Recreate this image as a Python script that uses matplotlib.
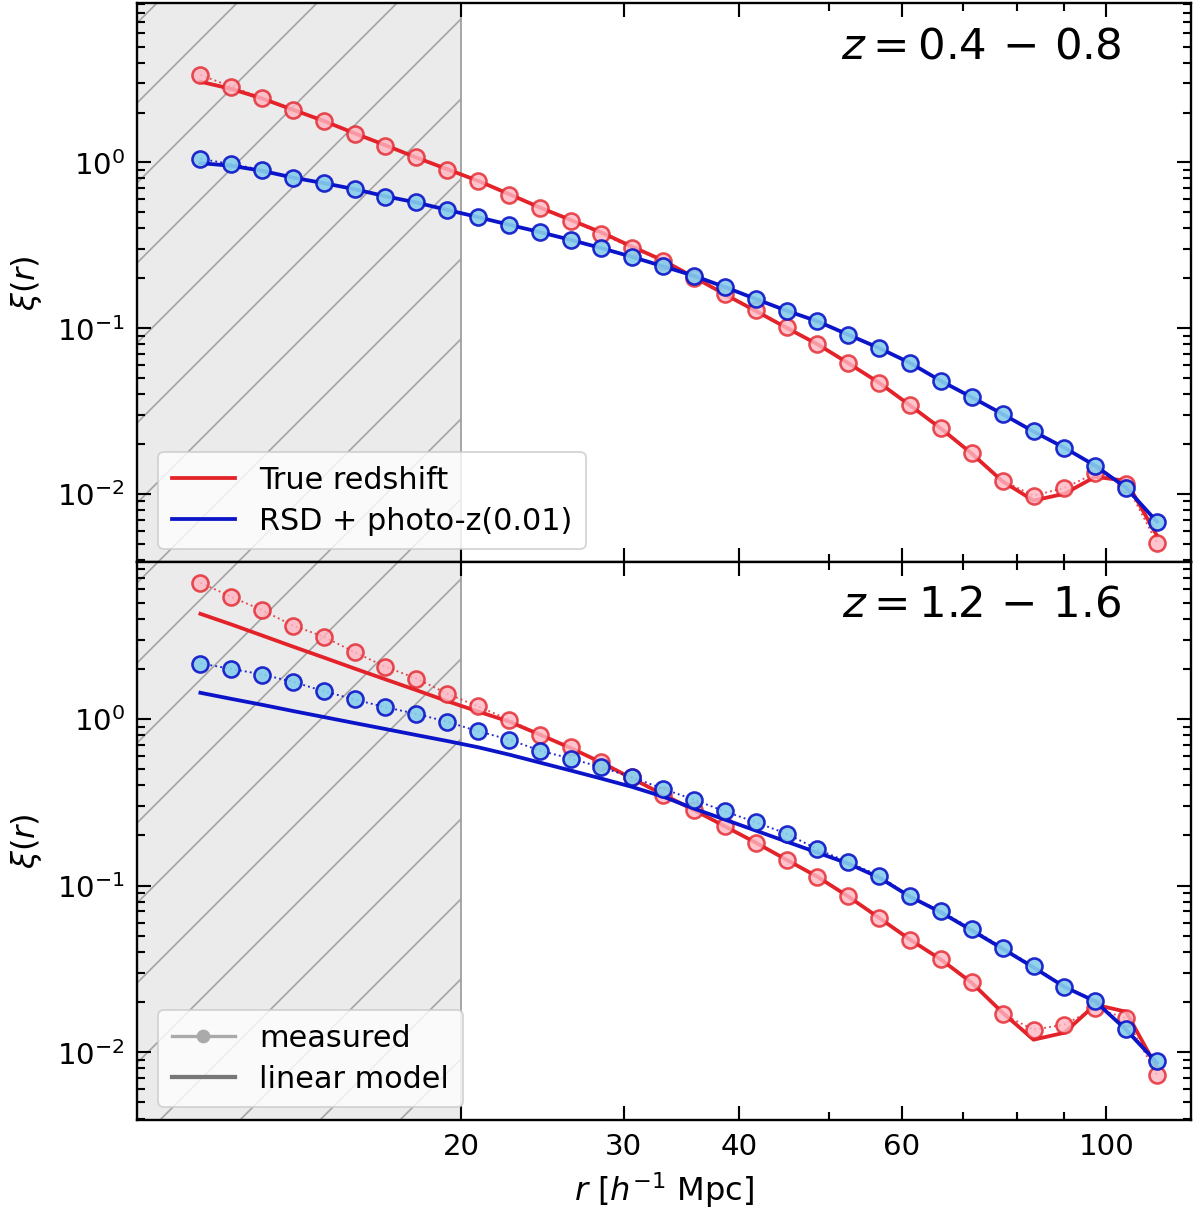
import matplotlib
matplotlib.use("Agg")
import matplotlib.pyplot as plt
from matplotlib.lines import Line2D
from matplotlib.ticker import FixedLocator, FixedFormatter, NullFormatter

# ====== Data ======
r = [10.43, 11.26, 12.17, 13.14, 14.19, 15.32, 16.55, 17.88, 19.31, 20.85,
     22.52, 24.32, 26.27, 28.37, 30.64, 33.10, 35.74, 38.61, 41.70, 45.03,
     48.64, 52.53, 56.74, 61.28, 66.19, 71.49, 77.20, 83.39, 90.06, 97.27,
     105.05, 113.45]

# z = 0.4 - 0.8
top_true_meas = [3.37, 2.87, 2.45, 2.07, 1.79, 1.49, 1.26, 1.075, 0.904, 0.777,
                 0.639, 0.529, 0.446, 0.371, 0.304, 0.254, 0.201, 0.161, 0.128, 0.1014,
                 0.0804, 0.0618, 0.0470, 0.0344, 0.0249, 0.0176, 0.0120, 0.00978, 0.01084, 0.01334,
                 0.01151, 0.00507]
top_true_model = [3.07, 2.78, 2.43, 2.08, 1.78, 1.50, 1.27, 1.07, 0.91, 0.775,
                  0.645, 0.535, 0.450, 0.378, 0.310, 0.256, 0.203, 0.160, 0.127, 0.1005,
                  0.0800, 0.0615, 0.0468, 0.0342, 0.0248, 0.0175, 0.0119, 0.00912, 0.01002, 0.01268,
                  0.0120, 0.00561]
top_rsd_meas = [1.05, 0.979, 0.901, 0.806, 0.752, 0.692, 0.622, 0.575, 0.517, 0.467,
                0.420, 0.379, 0.342, 0.305, 0.270, 0.2366, 0.2076, 0.1768, 0.1502, 0.1277,
                0.1102, 0.0915, 0.0760, 0.0618, 0.0480, 0.0384, 0.0304, 0.0239, 0.01897, 0.01483,
                0.01084, 0.00676]
top_rsd_model = [0.99, 0.955, 0.89, 0.81, 0.75, 0.69, 0.625, 0.573, 0.517, 0.468,
                 0.421, 0.380, 0.341, 0.304, 0.269, 0.236, 0.207, 0.177, 0.150, 0.1275,
                 0.1100, 0.0913, 0.0758, 0.0617, 0.0480, 0.0383, 0.0303, 0.0238, 0.0190, 0.0148,
                 0.0109, 0.00680]

# z = 1.2 - 1.6
bot_true_meas = [6.58, 5.42, 4.50, 3.64, 3.12, 2.52, 2.06, 1.75, 1.42, 1.19,
                 0.993, 0.807, 0.677, 0.550, 0.447, 0.352, 0.286, 0.227, 0.1805, 0.1432,
                 0.1133, 0.0862, 0.0640, 0.0474, 0.0363, 0.0265, 0.01695, 0.01365, 0.01463, 0.0184,
                 0.0160, 0.00733]
bot_true_model = [4.28, 3.70, 3.17, 2.72, 2.34, 2.01, 1.73, 1.49, 1.28, 1.11,
                  0.966, 0.807, 0.670, 0.548, 0.439, 0.352, 0.284, 0.227, 0.181, 0.143,
                  0.113, 0.086, 0.064, 0.0474, 0.0360, 0.0261, 0.01727, 0.01189, 0.01309, 0.01929,
                  0.0175, 0.00807]
bot_rsd_meas = [2.154, 2.003, 1.85, 1.673, 1.469, 1.31, 1.177, 1.074, 0.963, 0.845,
                0.753, 0.647, 0.579, 0.513, 0.447, 0.381, 0.328, 0.279, 0.240, 0.205,
                0.1655, 0.138, 0.1148, 0.0862, 0.0701, 0.0550, 0.0424, 0.0328, 0.0248, 0.0204,
                0.01384, 0.00889]
bot_rsd_model = [1.437, 1.322, 1.217, 1.117, 1.028, 0.946, 0.871, 0.801, 0.738, 0.677,
                 0.612, 0.548, 0.491, 0.439, 0.391, 0.342, 0.290, 0.249, 0.214, 0.1837,
                 0.1578, 0.1356, 0.1117, 0.0859, 0.0691, 0.0539, 0.0418, 0.0323, 0.0247, 0.0202,
                 0.01365, 0.00865]

panels = [
    ("$z = 0.4\\,-\\,0.8$", top_true_meas, top_true_model, top_rsd_meas, top_rsd_model, (0.0039, 9.1)),
    ("$z = 1.2\\,-\\,1.6$", bot_true_meas, bot_true_model, bot_rsd_meas, bot_rsd_model, (0.0039, 8.8)),
]

red = "#e3222a"
blue = "#0b14c8"
xticks = [20, 30, 40, 60, 100]

# dpi picked so the hatch spacing matches the original; S rescales point sizes
DPI = 240
S = 340 / DPI
plt.rcParams["hatch.linewidth"] = 0.35 * S
plt.rcParams["font.size"] = 6 * S

fig = plt.figure(figsize=(1200.5 / DPI, 1209.5 / DPI), dpi=DPI)
ax_top = fig.add_axes([0.114, 0.5352, 0.878, 0.4615])
ax_bot = fig.add_axes([0.114, 0.0733, 0.878, 0.4619], sharex=ax_top)
axs = [ax_top, ax_bot]

for ax, (title, tm, tmod, rm, rmod, ylim) in zip(axs, panels):
    ax.set_xscale("log")
    ax.set_yscale("log")

    # excluded small scales
    ax.axvspan(1, 20, facecolor="#ebebeb", edgecolor="#a3a3a3", hatch="/",
               linewidth=0.4 * S, zorder=0)

    ax.plot(r, tmod, color=red, lw=0.8 * S, zorder=2)
    ax.plot(r, tm, color=red, ls=":", lw=0.4 * S, marker="o", ms=3.4 * S,
            mfc="#ffb6c1", mec=red, mew=0.55 * S, alpha=0.8, zorder=3)
    ax.plot(r, rmod, color=blue, lw=0.8 * S, zorder=4)
    ax.plot(r, rm, color=blue, ls=":", lw=0.4 * S, marker="o", ms=3.4 * S,
            mfc="#87ceeb", mec=blue, mew=0.55 * S, alpha=0.9, zorder=5)

    ax.text(0.934, 0.924, title, transform=ax.transAxes, ha="right", va="center",
            fontsize=9.2 * S)

    ax.set_xlim(8.9, 123.5)
    ax.set_ylim(*ylim)
    ax.set_ylabel(r"$\xi(r)$", fontsize=6.8 * S)

    ax.xaxis.set_major_locator(FixedLocator(xticks))
    ax.xaxis.set_major_formatter(FixedFormatter([str(t) for t in xticks]))
    ax.xaxis.set_minor_locator(FixedLocator([50, 70, 80, 90]))
    ax.xaxis.set_minor_formatter(NullFormatter())
    ax.tick_params(which="both", direction="in", top=True, right=True, width=0.45 * S,
                   labelsize=6.2 * S)
    ax.tick_params(which="major", length=3.0 * S, pad=2.5 * S)
    ax.tick_params(which="minor", length=1.7 * S)
    for s in ax.spines.values():
        s.set_linewidth(0.5 * S)

ax_top.tick_params(axis="x", which="both", labelbottom=False)
ax_bot.set_xlabel(r"$r$ [$h^{-1}$ Mpc]", fontsize=6.8 * S, labelpad=2 * S)

leg_style = dict(loc="lower left", fontsize=6.4 * S, labelspacing=0.4, borderpad=0.45,
                 borderaxespad=0, handlelength=2.1, fancybox=True, edgecolor="#cccccc")
for ax, anchor, handles, labels in [
    (ax_top, (0.02, 0.022),
     [Line2D([], [], color=red, lw=0.8 * S), Line2D([], [], color=blue, lw=0.8 * S)],
     ["True redshift", "RSD + photo-z(0.01)"]),
    (ax_bot, (0.02, 0.023),
     [Line2D([], [], color="#aaaaaa", lw=0.7 * S, marker="o", ms=2.2 * S),
      Line2D([], [], color="#777777", lw=0.9 * S)],
     ["measured", "linear model"]),
]:
    leg = ax.legend(handles, labels, bbox_to_anchor=anchor, **leg_style)
    leg.get_frame().set_linewidth(0.4 * S)

fig.savefig("out.png", dpi=DPI)
